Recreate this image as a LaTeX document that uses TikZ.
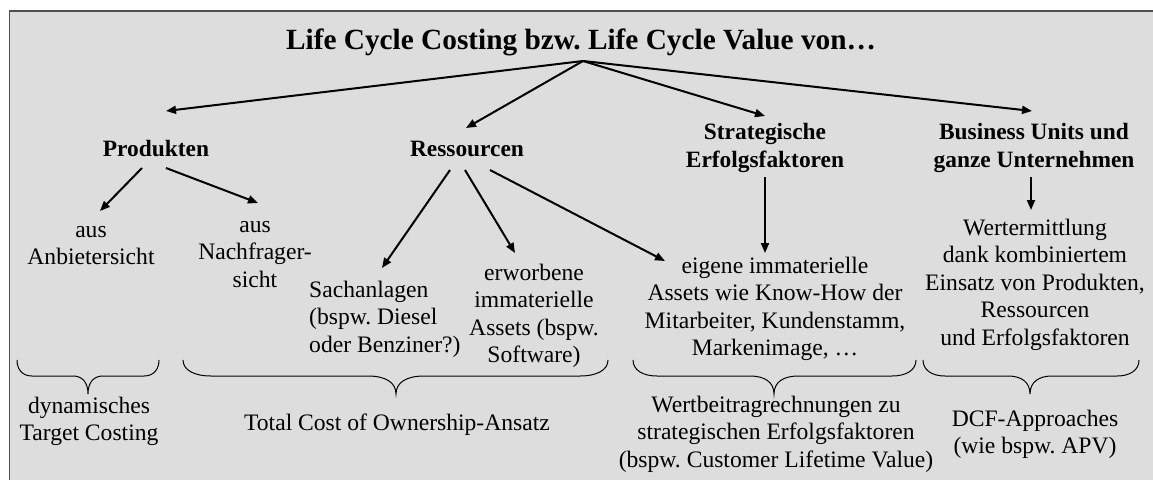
\documentclass[tikz,border=0pt]{standalone}
\usepackage{fontspec}
\setmainfont{Liberation Serif}
\usetikzlibrary{arrows.meta}
\definecolor{bgray}{HTML}{DDDDDD}
\definecolor{fgray}{HTML}{505050}
\newcommand\drawbrace[4]{%
  \draw[brc] (#1,360) .. controls (#1,370) and (#1+0.4*#4,376) .. (#1+#4,376)
    -- (#3-#4,376) .. controls (#3-0.4*#4,376) and (#3,382) .. (#3,394)
    .. controls (#3,382) and (#3+0.4*#4,376) .. (#3+#4,376)
    -- (#2-#4,376) .. controls (#2-0.4*#4,376) and (#2,370) .. (#2,360);}
\begin{document}
\frenchspacing
\begin{tikzpicture}[x=1pt,y=-1pt,
  txt/.style={inner sep=0pt, align=center, font=\frenchspacing\fontsize{23.6}{27.5}\selectfont},
  hd/.style={inner sep=0pt, align=center, font=\frenchspacing\fontsize{23.4}{28}\selectfont\bfseries},
  arr/.style={line width=2pt, -{Triangle[length=10pt,width=8pt]}},
  brc/.style={line width=1pt}]
\useasboundingbox (0,0) rectangle (1153,479);
\fill[white] (0,0) rectangle (1153,479);
\draw[fill=bgray, draw=fgray, line width=1.5pt] (9.5,11) rectangle (1170,495);

% title (anchor base = baseline of the last line)
\node[inner sep=0pt, anchor=base, font=\frenchspacing\fontsize{29.3}{33}\selectfont\bfseries] (title) at (581,49) {Life Cycle Costing bzw. Life Cycle Value von…};
\coordinate (t0) at (583,61);

% level 1
\node[hd, anchor=base] (prod) at (156,156) {Produkten};
\node[hd, anchor=base] (res) at (467,156) {Ressourcen};
\node[hd, anchor=base] (strat) at (765,167) {Strategische\\Erfolgsfaktoren};
\node[hd, anchor=base] (bu) at (1034,167) {Business Units und\\ganze Unternehmen};

% level 2
\node[txt, anchor=base] (anb) at (91,264.5) {aus\\Anbietersicht};
\node[txt, anchor=base] (nach) at (255,287) {aus\\Nachfrager-\\sicht};
\node[txt, anchor=base west, align=left] (sach) at (309,352) {Sachanlagen\\(bspw. Diesel\\oder Benziner?)};
\node[txt, anchor=base] (erw) at (534,362.5) {erworbene\\immaterielle\\Assets (bspw.\\Software)};
\node[txt, anchor=base] (eig) at (775,355.5) {eigene immaterielle\\Assets wie Know-How der\\Mitarbeiter, Kundenstamm,\\Markenimage, …};
\node[txt, anchor=base] (wert) at (1035,345) {Wertermittlung\\dank kombiniertem\\Einsatz von Produkten,\\Ressourcen\\und Erfolgsfaktoren};

% bottom
\node[txt, anchor=base] (dyn) at (89,440.5) {dynamisches\\Target Costing};
\node[txt, anchor=base] (tco) at (397,430) {Total Cost of Ownership-Ansatz};
\node[txt, anchor=base] (wb) at (776,467) {Wertbeitragrechnungen zu\\strategischen Erfolgsfaktoren\\(bspw. Customer Lifetime Value)};
\node[txt, anchor=base] (dcf) at (1035,453.5) {DCF-Approaches\\(wie bspw. APV)};

% arrow end points
\coordinate (prodin) at (166,111);
\coordinate (resin) at (466,128);
\coordinate (stratin) at (765,116);
\coordinate (buin) at (1032,111);
\coordinate (prodA) at (142,168);
\coordinate (prodB) at (166,168);
\coordinate (anbin) at (100,211);
\coordinate (nachin) at (258,203);
\coordinate (resA) at (450,170);
\coordinate (resB) at (465,170);
\coordinate (resC) at (490,170);
\coordinate (sachin) at (382,268);
\coordinate (erwin) at (515,253);
\coordinate (eigin) at (665,261);
\coordinate (stratout) at (765,177);
\coordinate (eigtop) at (765,253);
\coordinate (buout) at (1031,177);
\coordinate (wertin) at (1031,210);

\draw[arr] (t0) -- (prodin);
\draw[arr] (t0) -- (resin);
\draw[arr] (t0) -- (stratin);
\draw[arr] (t0) -- (buin);
\draw[arr] (prodA) -- (anbin);
\draw[arr] (prodB) -- (nachin);
\draw[arr] (resA) -- (sachin);
\draw[arr] (resB) -- (erwin);
\draw[arr] (resC) -- (eigin);
\draw[arr] (stratout) -- (eigtop);
\draw[arr] (buout) -- (wertin);

% braces
\drawbrace{17}{159}{88}{15}
\drawbrace{183}{608}{396}{28}
\drawbrace{633}{916}{774}{24}
\drawbrace{923}{1139}{1030}{22}
\end{tikzpicture}
\end{document}
